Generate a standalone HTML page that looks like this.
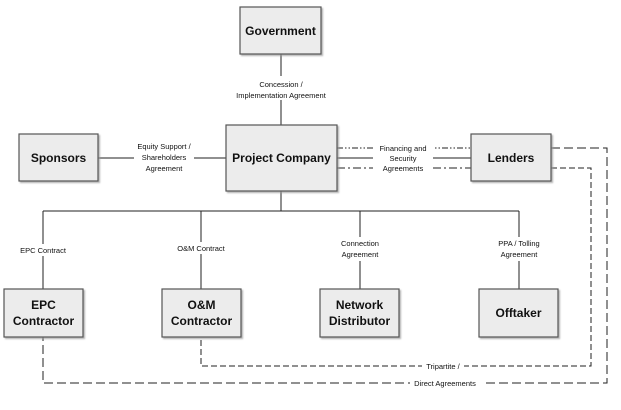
<!DOCTYPE html>
<html><head><style>
body{margin:0;background:#fff;width:621px;height:405px;overflow:hidden}
svg text{font-family:"Liberation Sans",sans-serif}
.b{fill:#ececec;stroke:#555;stroke-width:1.2}
.t{font-weight:bold;font-size:12px;text-anchor:middle;fill:#111}
.l{font-size:7.5px;text-anchor:middle;fill:#111}
</style></head><body>
<svg width="621" height="405" viewBox="0 0 621 405">
<defs><filter id="s"><feDropShadow dx="1.5" dy="1.5" stdDeviation="0.8" flood-color="#999" flood-opacity="0.7"/></filter></defs>
<g stroke="#222" stroke-width="1" fill="none">
<line x1="281" y1="54" x2="281" y2="125"/>
<line x1="98" y1="158" x2="226" y2="158"/>
<line x1="337" y1="158" x2="471" y2="158"/>
<line x1="337" y1="148" x2="471" y2="148" stroke-dasharray="6,2,1.5,2,1.5,2"/>
<line x1="337" y1="168" x2="471" y2="168" stroke-dasharray="8,3,2,3"/>
<line x1="281" y1="191" x2="281" y2="211"/>
<line x1="43" y1="211" x2="519" y2="211"/>
<line x1="43" y1="211" x2="43" y2="289"/>
<line x1="201" y1="211" x2="201" y2="289"/>
<line x1="360" y1="211" x2="360" y2="289"/>
<line x1="519" y1="211" x2="519" y2="289"/>
<polyline points="551,148 607,148 607,383 43,383 43,337" stroke-dasharray="9,4"/>
<polyline points="551,168 591,168 591,366 201,366 201,337" stroke-dasharray="6,3"/>
</g>
<g fill="#fff">
<rect x="134" y="140" width="60" height="34"/>
<rect x="373" y="141" width="60" height="33"/>
<rect x="233" y="76" width="96" height="24"/>
<rect x="422" y="360" width="42" height="12"/>
<rect x="410" y="377" width="72" height="12"/>
<rect x="15" y="244" width="56" height="12"/>
<rect x="170" y="242" width="62" height="12"/>
<rect x="333" y="237" width="54" height="24"/>
<rect x="490" y="237" width="58" height="24"/>
</g>
<g filter="url(#s)">
<rect class="b" x="240" y="7" width="81" height="47"/>
<rect class="b" x="226" y="125" width="111" height="66"/>
<rect class="b" x="19" y="134" width="79" height="47"/>
<rect class="b" x="471" y="134" width="80" height="47"/>
<rect class="b" x="4" y="289" width="79" height="48"/>
<rect class="b" x="162" y="289" width="79" height="48"/>
<rect class="b" x="320" y="289" width="79" height="48"/>
<rect class="b" x="479" y="289" width="79" height="48"/>
</g>
<text class="t" x="280.5" y="35">Government</text>
<text class="t" x="281.5" y="162">Project Company</text>
<text class="t" x="58.5" y="162">Sponsors</text>
<text class="t" x="511" y="162">Lenders</text>
<text class="t" x="43.5" y="309">EPC</text><text class="t" x="43.5" y="325">Contractor</text>
<text class="t" x="201.5" y="309">O&amp;M</text><text class="t" x="201.5" y="325">Contractor</text>
<text class="t" x="359.5" y="309">Network</text><text class="t" x="359.5" y="325">Distributor</text>
<text class="t" x="518.5" y="317">Offtaker</text>
<text class="l" x="281" y="87">Concession /</text>
<text class="l" x="281" y="98">Implementation Agreement</text>
<text class="l" x="164" y="149">Equity Support /</text>
<text class="l" x="164" y="160">Shareholders</text>
<text class="l" x="164" y="171">Agreement</text>
<text class="l" x="403" y="151">Financing and</text>
<text class="l" x="403" y="161">Security</text>
<text class="l" x="403" y="171">Agreements</text>
<text class="l" x="43" y="253">EPC Contract</text>
<text class="l" x="201" y="251">O&amp;M Contract</text>
<text class="l" x="360" y="246">Connection</text>
<text class="l" x="360" y="257">Agreement</text>
<text class="l" x="519" y="246">PPA / Tolling</text>
<text class="l" x="519" y="257">Agreement</text>
<text class="l" x="443" y="369">Tripartite /</text>
<text class="l" x="445" y="386">Direct Agreements</text>
</svg>
</body></html>
